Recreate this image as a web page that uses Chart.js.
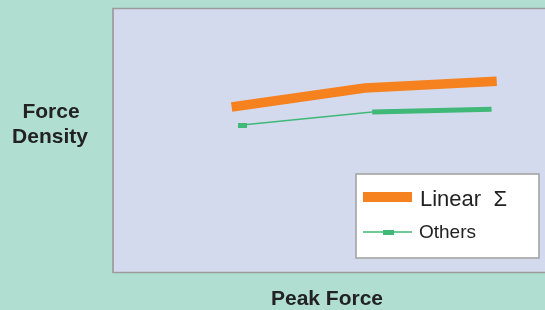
<!DOCTYPE html>
<html>
<head>
<meta charset="utf-8">
<script src="https://cdn.jsdelivr.net/npm/chart.js@4"></script>
<style>
  html, body { margin: 0; padding: 0; background: #b0dfd1; }
  #wrap { width: 545px; height: 310px; }
</style>
</head>
<body>
<div id="wrap"><canvas id="chart"></canvas></div>
<script>
// Data (axes have no ticks, 0..100 scale)
const seriesNames = ['Linear  \u03A3', 'Others'];
const linearX = [27.3, 58.2, 88.8];
const linearY = [63.0, 70.2, 72.8];
const othersX = [29.7, 59.9, 87.6];
const othersY = [56.1, 61.1, 62.1];
const xTitle = 'Peak Force';
const yTitle = ['Force', 'Density'];

const ORANGE = '#f5821f';
const GREEN = '#3fb878';

function toPoints(xs, ys) {
    return xs.map((x, i) => ({ x: x, y: ys[i] }));
}

// small wide marker used on the Others series
const marker = document.createElement('canvas');
marker.width = 9;
marker.height = 5;
const mctx = marker.getContext('2d');
mctx.fillStyle = GREEN;
mctx.fillRect(0, 0, 9, 5);

// plot background, border, axis titles and legend box
const decor = {
    id: 'decor',
    beforeDraw(chart) {
        const ctx = chart.ctx;
        ctx.save();
        ctx.fillStyle = '#b0dfd1';
        ctx.fillRect(0, 0, chart.width, chart.height);
        ctx.fillStyle = '#d4daee';
        ctx.fillRect(113, 8, 432, 265);
        ctx.strokeStyle = '#9b9b9b';
        ctx.lineWidth = 1.7;
        ctx.beginPath();
        ctx.moveTo(545, 8.5);
        ctx.lineTo(113, 8.5);
        ctx.lineTo(113, 272.5);
        ctx.lineTo(545, 272.5);
        ctx.stroke();

        ctx.fillStyle = '#222';
        ctx.font = 'bold 21px "Liberation Sans", Arial, sans-serif';
        ctx.textAlign = 'center';
        ctx.textBaseline = 'alphabetic';
        ctx.fillText(xTitle, 327, 305);
        ctx.fillText(yTitle[0], 51, 118);
        ctx.fillText(yTitle[1], 50, 143);
        ctx.restore();
    },
    afterDatasetsDraw(chart) {
        const ctx = chart.ctx;
        ctx.save();
        ctx.fillStyle = '#ffffff';
        ctx.fillRect(356, 174, 183, 84);
        ctx.strokeStyle = '#a8a8a8';
        ctx.lineWidth = 1.7;
        ctx.strokeRect(356, 174, 183, 84);

        ctx.fillStyle = ORANGE;
        ctx.fillRect(363, 192, 49, 10);
        ctx.strokeStyle = GREEN;
        ctx.lineWidth = 1.5;
        ctx.beginPath();
        ctx.moveTo(363, 232);
        ctx.lineTo(412, 232);
        ctx.stroke();
        ctx.fillStyle = GREEN;
        ctx.fillRect(383, 230, 11, 5);

        ctx.fillStyle = '#222';
        ctx.textAlign = 'left';
        ctx.font = '22px "Liberation Sans", Arial, sans-serif';
        ctx.fillText(seriesNames[0], 420, 206);
        ctx.font = '19px "Liberation Sans", Arial, sans-serif';
        ctx.fillText(seriesNames[1], 419, 238);
        ctx.restore();
    }
};

new Chart(document.getElementById('chart'), {
    type: 'line',
    data: {
        datasets: [{
            label: seriesNames[0],
            data: toPoints(linearX, linearY),
            borderColor: ORANGE,
            borderWidth: 9.5,
            borderCapStyle: 'butt',
            borderJoinStyle: 'bevel',
            pointRadius: 0,
            tension: 0
        }, {
            label: seriesNames[1],
            data: toPoints(othersX, othersY),
            borderColor: GREEN,
            borderWidth: 1.5,
            borderCapStyle: 'butt',
            segment: {
                borderWidth: c => c.p0DataIndex === 0 ? 1.5 : 5
            },
            pointStyle: marker,
            pointRadius: [4, 0, 0],
            tension: 0
        }]
    },
    options: {
        responsive: true,
        maintainAspectRatio: false,
        animation: false,
        layout: {
            autoPadding: false,
            padding: { left: 114, right: 0, top: 10, bottom: 38 }
        },
        scales: {
            x: { type: 'linear', min: 0, max: 100, display: false },
            y: { min: 0, max: 100, display: false }
        },
        plugins: {
            legend: { display: false },
            tooltip: { enabled: false }
        }
    },
    plugins: [decor]
});
</script>
</body>
</html>
